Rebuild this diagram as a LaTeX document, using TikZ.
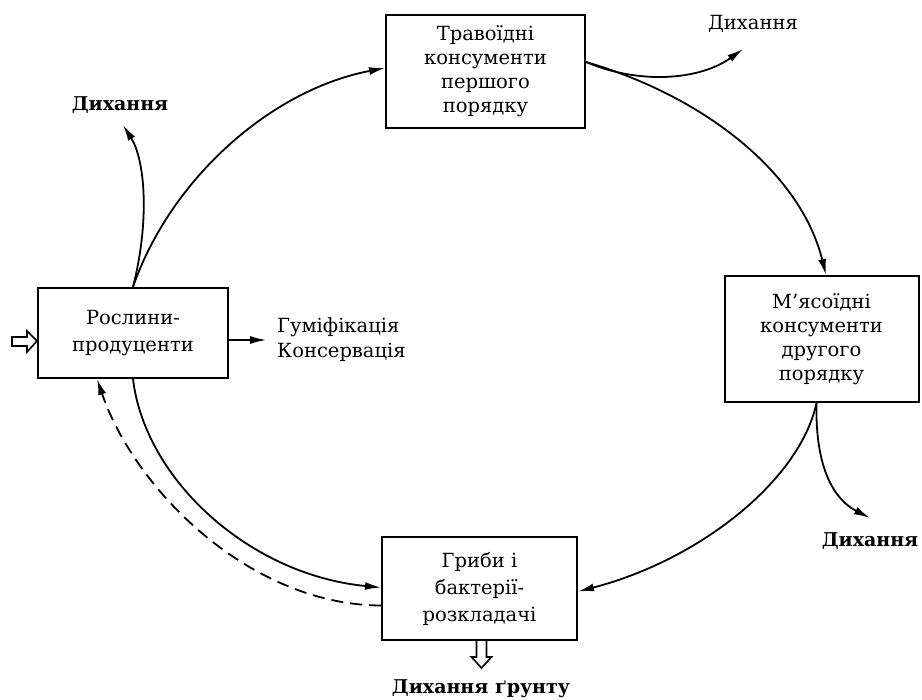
\documentclass[tikz,border=0pt]{standalone}
\usepackage{fontspec}
\setmainfont{DejaVu Serif}
\usetikzlibrary{arrows.meta,calc}
\begin{document}
\begin{tikzpicture}[x=1pt,y=-1pt,
  box/.style={draw,line width=2pt,align=center,inner sep=0pt,font=\fontsize{19.5}{24}\selectfont},
  lbl/.style={font=\fontsize{19.5}{25}\selectfont,inner sep=0pt},
  blbl/.style={font=\bfseries\fontsize{19}{25}\selectfont,inner sep=0pt},
  flow/.style={line width=1.8pt,-{Latex[length=16pt,width=8pt]}},
  dflow/.style={flow,dash pattern=on 12pt off 7pt},
  hollow/.style={draw,line width=1.6pt,fill=white,line join=miter}]
\useasboundingbox (0,0) rectangle (922,700);
% boxes
\node[box,minimum width=199pt,minimum height=113pt] (T) at (485.5,71.5) {Травоїдні\\консументи\\першого\\порядку};
\node[box,minimum width=194pt,minimum height=126pt] (M) at (821.5,339) {М'ясоїдні\\консументи\\другого\\порядку};
\node[box,minimum width=190pt,minimum height=90pt,font=\fontsize{19.5}{27}\selectfont] (P) at (133,333) {Рослини-\\продуценти};
\node[box,minimum width=195pt,minimum height=103pt,font=\fontsize{19.5}{27}\selectfont] (G) at (479.5,588.5) {Гриби і\\бактерії-\\розкладачі};
% labels
\node[lbl] (d1) at (753,24) {Дихання};
\node[blbl] (d2) at (120,105) {Дихання};
\node[blbl] (d3) at (870,541) {Дихання};
\node[blbl] (d4) at (481,689) {Дихання ґрунту};
\node[lbl,anchor=west,align=left] (hum) at (277,340) {Гуміфікація\\Консервація};
% free ends
\coordinate (e2) at (123,125);
\coordinate (e1) at (743,49);
\coordinate (e3) at (870,518);
% main cycle
\draw[flow] (P.north) .. controls (170,180) and (270,90) .. ([yshift=3.5pt]T.west);
\draw[flow] ([yshift=9.5pt]T.east) .. controls (700,95) and (800,170) .. ([xshift=4.5pt]M.north);
\draw[flow] ([xshift=-5pt]M.south) .. controls (800,480) and (700,560) .. ([yshift=-3pt]G.east);
\draw[flow] (P.south) .. controls (145,480) and (250,575) .. ([yshift=1pt]G.west);
\draw[dflow] ([yshift=-17pt]G.west) .. controls (250,605) and (135,490) .. ([xshift=-36pt]P.south);
% respiration branches
\draw[flow] (P.north) .. controls (150,220) and (145,160) .. (e2);
\draw[flow] ([yshift=9.5pt]T.east) .. controls (640,85) and (700,80) .. (e1);
\draw[flow] ([xshift=-5pt]M.south) .. controls (815,470) and (835,500) .. (e3);
% humification
\draw[flow,line width=1.4pt] (P.east |- hum.west) -- ([xshift=-11pt]hum.west);
% hollow arrows
\draw[hollow] (12,337) -- (27,337) -- (27,331) -- (P.west |- 0,341) -- (27,352) -- (27,346) -- (12,346) -- cycle;
\draw[hollow] (476.5,641) -- (476.5,657) -- (471.5,657) -- (481.5,668) -- (491.5,657) -- (486.5,657) -- (486.5,641);
\end{tikzpicture}
\end{document}
